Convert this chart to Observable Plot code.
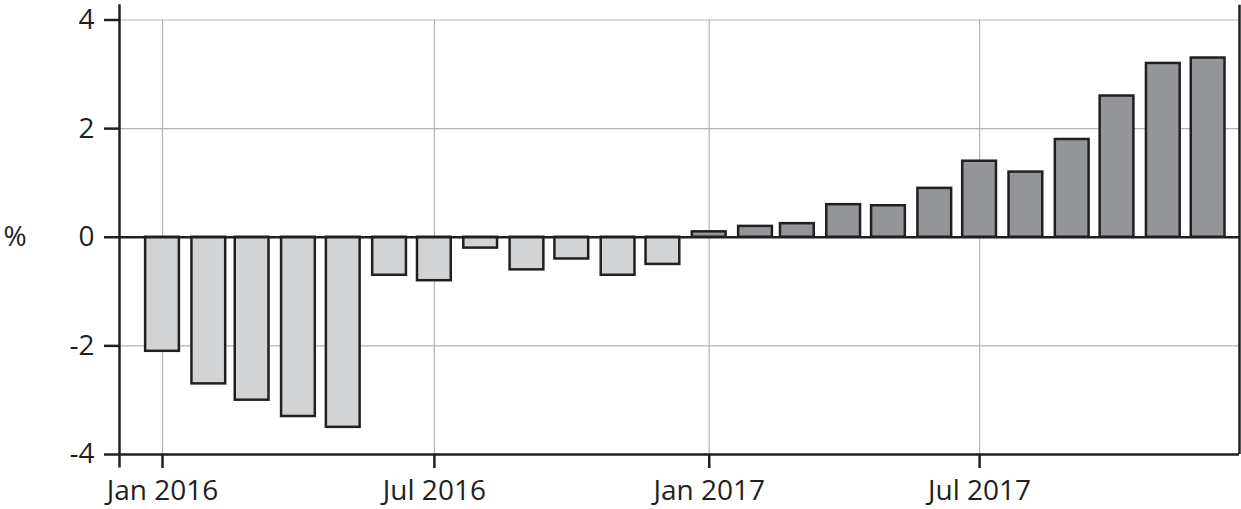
<!DOCTYPE html>
<html><head><meta charset="utf-8">
<script src="https://cdn.jsdelivr.net/npm/d3@7"></script>
<script src="https://cdn.jsdelivr.net/npm/@observablehq/plot@0.6"></script>
<style>body{margin:0;background:#fff} svg{display:block}</style>
</head><body><div id="chart"></div>
<script>
const months = ["2016-01","2016-02","2016-03","2016-04","2016-05","2016-06","2016-07","2016-08","2016-09","2016-10","2016-11","2016-12",
                "2017-01","2017-02","2017-03","2017-04","2017-05","2017-06","2017-07","2017-08","2017-09","2017-10","2017-11","2017-12"];
const values = [-2.1,-2.7,-3.0,-3.3,-3.5,-0.7,-0.8,-0.2,-0.6,-0.4,-0.7,-0.5,
                0.1,0.2,0.25,0.6,0.58,0.9,1.4,1.2,1.8,2.6,3.2,3.3];
const yTicks = [-4,-2,0,2,4];
const xTickMonths = ["2016-01","2016-07","2017-01","2017-07"];
const xTickLabels = ["Jan 2016","Jul 2016","Jan 2017","Jul 2017"];
const yLabel = "%";
const years = ["2016","2017"];
const yearColors = ["#d1d3d4","#939598"];

const parse = d3.utcParse("%Y-%m");
const data = months.map((m,i)=>({date: parse(m), value: values[i], year: m.slice(0,4)}));
const xTickDates = xTickMonths.map(parse);
const halfBar = 11.3*864e5;
const xDomain = [new Date(Date.UTC(2015,11,3,5)), new Date(Date.UTC(2017,11,22))];
const ink = "#231f20";
const gridColor = "#b3b4b6";
const fs = 28;

const plot = Plot.plot({
  width:1241, height:509,
  marginLeft:119, marginRight:2, marginTop:19.5, marginBottom:55,
  style:{fontFamily:"'Open Sans', sans-serif", fontSize:fs+"px", color:ink, background:"#fff", overflow:"visible"},
  x:{type:"utc", domain:xDomain, label:null},
  y:{domain:[-4,4], label:null},
  color:{domain:years, range:yearColors},
  marks:[
    Plot.gridY(yTicks,{stroke:gridColor, strokeOpacity:1, strokeWidth:1.2}),
    Plot.gridX(xTickDates,{stroke:gridColor, strokeOpacity:1, strokeWidth:1.2}),
    Plot.rectY(data,{x1:d=>new Date(+d.date-halfBar), x2:d=>new Date(+d.date+halfBar), y1:0, y2:"value", fill:"year", stroke:ink, strokeWidth:2.5}),
    Plot.ruleY([0],{stroke:ink, strokeWidth:2.5}),
    Plot.ruleY([-4],{stroke:ink, strokeWidth:2.5}),
    Plot.ruleX([xDomain[0]],{y1:-4.25, y2:4.28, stroke:ink, strokeWidth:2.5, clip:false}),
    Plot.ruleX([xDomain[1]],{y1:-4, y2:4.27, stroke:ink, strokeWidth:2.5, clip:false}),
    Plot.axisY(yTicks,{tickSize:15, tickPadding:10, tickFormat:d=>String(d), stroke:ink, strokeWidth:2.5, fontSize:fs, fill:ink, label:null}),
    Plot.axisX(xTickDates,{tickSize:14, tickPadding:12, tickFormat:d=>xTickLabels[xTickDates.findIndex(t=>+t===+d)], stroke:ink, strokeWidth:2.5, fontSize:fs, fill:ink, label:null}),
    Plot.text([yLabel],{frameAnchor:"left", dx:-116, textAnchor:"start", fontSize:fs, fill:ink})
  ]
});
document.getElementById("chart").appendChild(plot);
</script>
</body></html>
